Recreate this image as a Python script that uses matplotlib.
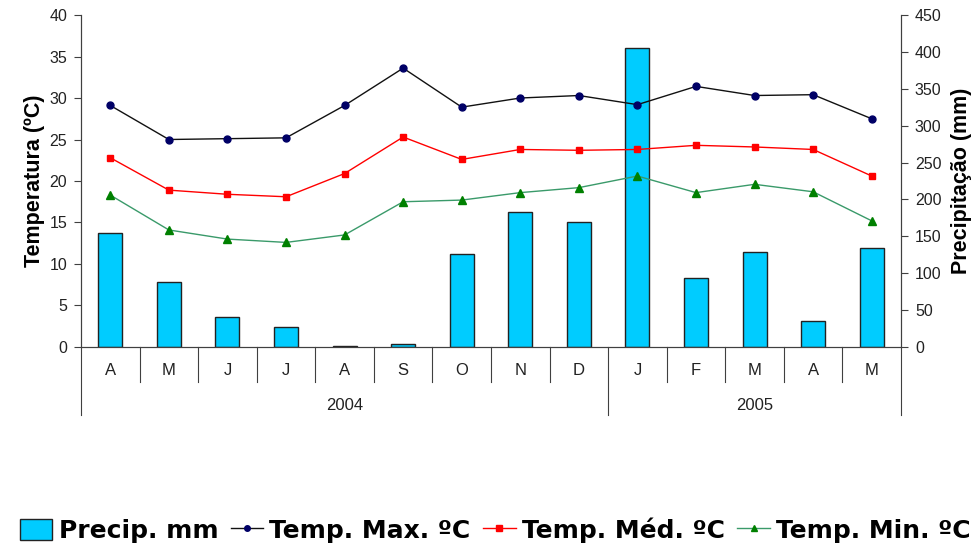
import numpy as np
import matplotlib
matplotlib.use("Agg")
import matplotlib.pyplot as plt
from matplotlib.lines import Line2D
from matplotlib.patches import Patch
import matplotlib.transforms as mtransforms

plt.rcParams["font.family"] = ["Liberation Sans", "DejaVu Sans"]

# ── Data ──────────────────────────────────────────────────────────────────────
months = ["A", "M", "J", "J", "A", "S", "O", "N", "D", "J", "F", "M", "A", "M"]
years = ["2004", "2005"]
year_spans = [(0, 9), (9, 14)]   # month index ranges for each year

precip = [155, 88, 40, 27, 1, 4, 126, 183, 170, 405, 93, 129, 35, 134]
temp_max = [29.1, 25.0, 25.1, 25.2, 29.1, 33.6, 28.9, 30.0, 30.3, 29.2, 31.4, 30.3, 30.4, 27.5]
temp_med = [22.8, 18.9, 18.4, 18.1, 20.9, 25.3, 22.6, 23.8, 23.7, 23.8, 24.3, 24.1, 23.8, 20.6]
temp_min = [18.3, 14.1, 13.0, 12.6, 13.5, 17.5, 17.7, 18.6, 19.2, 20.6, 18.6, 19.6, 18.7, 15.2]

AXIS_CLR = "#404040"
TICK_CLR = "#222222"

# ── Figure ────────────────────────────────────────────────────────────────────
fig = plt.figure(figsize=(9.75, 5.46), dpi=100)
ax = fig.add_axes([0.0831, 0.3645, 0.8410, 0.608])
ax2 = ax.twinx()

x = np.arange(len(months))

# Bars on the right (precipitation) axis
ax2.bar(x, precip, width=0.41, color="#00CCFF", edgecolor="#222222", linewidth=1.0)
ax2.set_ylim(0, 450)
ax2.set_yticks(range(0, 451, 50))

# Temperature lines on the left axis, drawn above the bars
ax.set_zorder(ax2.get_zorder() + 1)
ax.patch.set_visible(False)
ax.plot(x, temp_max, color="#111111", linewidth=1.0, marker="o", markersize=5,
        markerfacecolor="#000066", markeredgecolor="#000066")
ax.plot(x, temp_med, color="#FF0000", linewidth=1.0, marker="s", markersize=5,
        markerfacecolor="#FF0000", markeredgecolor="#FF0000")
ax.plot(x, temp_min, color="#3a9a6a", linewidth=1.0, marker="^", markersize=5.5,
        markerfacecolor="#008000", markeredgecolor="#008000")
ax.set_ylim(0, 40)
ax.set_yticks(range(0, 41, 5))
ax.set_xlim(-0.5, len(months) - 0.5)
ax.set_xticks([])

for a in (ax, ax2):
    a.spines["top"].set_visible(False)
    a.spines["bottom"].set_color(AXIS_CLR)
    a.spines["left"].set_color(AXIS_CLR)
    a.spines["right"].set_color(AXIS_CLR)
    a.tick_params(axis="y", direction="out", length=5, width=0.8, color=AXIS_CLR,
                  labelsize=11.5, labelcolor=TICK_CLR, pad=5)

ax.set_ylabel("Temperatura (ºC)", fontsize=15.5, fontweight="bold", labelpad=3)
ax2.set_ylabel("Precipitação (mm)", fontsize=15.5, fontweight="bold", labelpad=7)

# ── Category axis (months + years) ────────────────────────────────────────────
trans = mtransforms.blended_transform_factory(ax.transData, ax.transAxes)
for b in np.arange(-0.5, len(months), 1.0):
    is_year_edge = b in (-0.5, len(months) - 0.5) or any(b == s - 0.5 for s, _ in year_spans[1:])
    bottom = -0.205 if is_year_edge else -0.105
    ax.plot([b, b], [0, bottom], transform=trans, color=AXIS_CLR, linewidth=0.8, clip_on=False)

for i, m in enumerate(months):
    ax.text(i, -0.07, m, transform=trans, ha="center", va="center", fontsize=12, color=TICK_CLR)

for yr, (s, e) in zip(years, year_spans):
    ax.text((s + e - 1) / 2, -0.175, yr, transform=trans, ha="center", va="center",
            fontsize=12, color=TICK_CLR)

# ── Legend ────────────────────────────────────────────────────────────────────
handles = [
    Patch(facecolor="#00CCFF", edgecolor="#222222", linewidth=1.0),
    Line2D([], [], color="#111111", linewidth=1.0, marker="o", markersize=4,
           markerfacecolor="#000066", markeredgecolor="#000066"),
    Line2D([], [], color="#FF0000", linewidth=1.0, marker="s", markersize=4,
           markerfacecolor="#FF0000", markeredgecolor="#FF0000"),
    Line2D([], [], color="#3a9a6a", linewidth=1.0, marker="^", markersize=4,
           markerfacecolor="#008000", markeredgecolor="#008000"),
]
labels = ["Precip. mm", "Temp. Max. ºC", "Temp. Méd. ºC", "Temp. Min. ºC"]
fig.legend(handles, labels, loc="center", bbox_to_anchor=(0.508, 0.029), ncol=4,
           frameon=False, prop={"family": "DejaVu Sans", "size": 18, "weight": "bold"},
           handlelength=1.3, handleheight=0.9, handletextpad=0.25, columnspacing=0.5)

plt.savefig("out.png", dpi=100)
plt.close()
